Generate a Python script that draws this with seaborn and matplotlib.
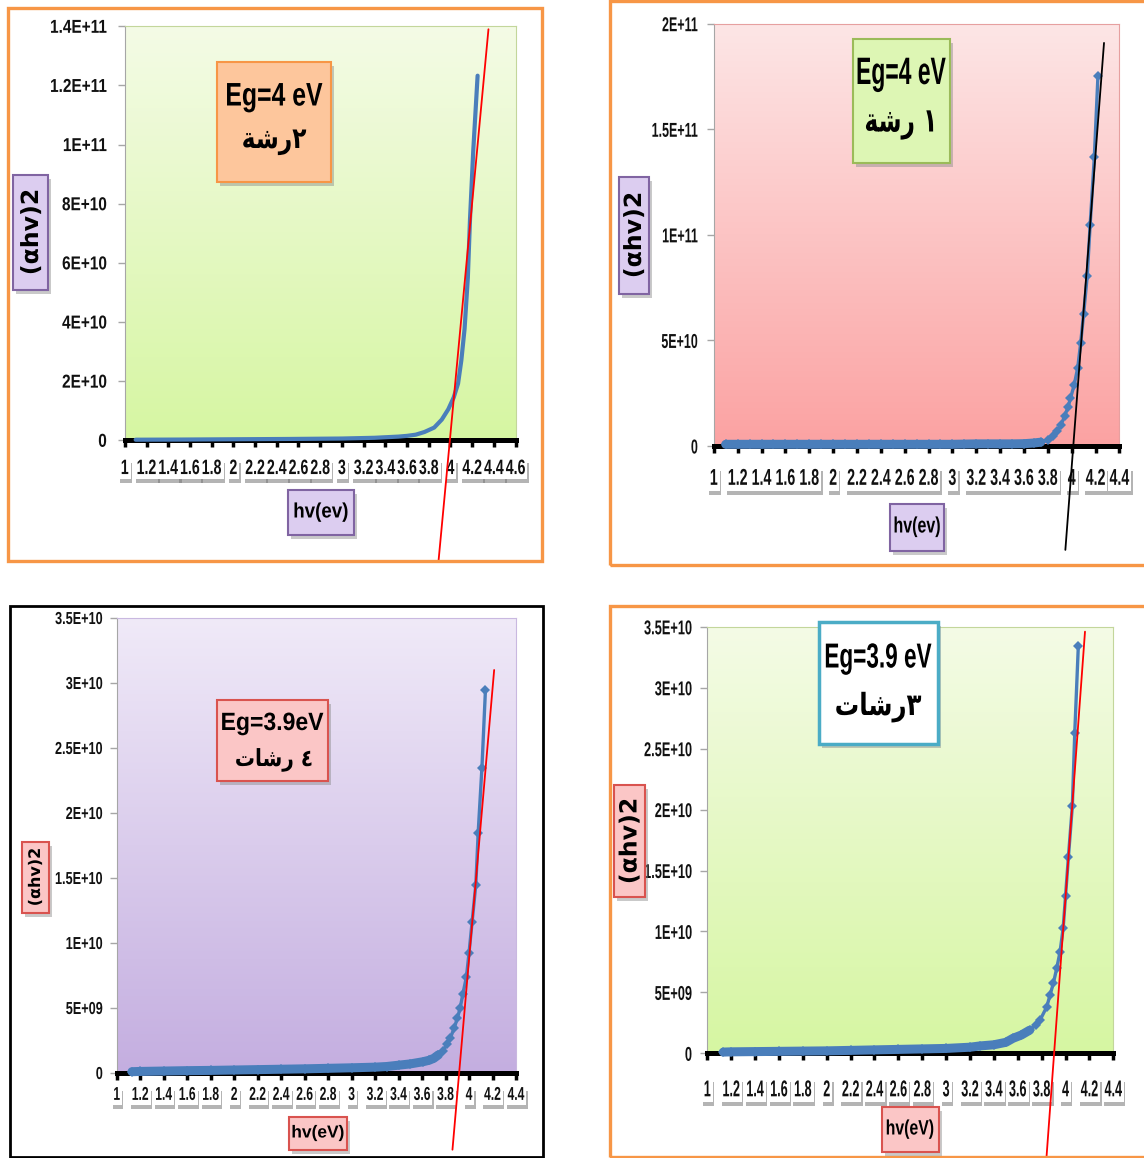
import numpy as np
import matplotlib
matplotlib.use("Agg")
import matplotlib.pyplot as plt
import matplotlib.patheffects as pe
from matplotlib.patches import Rectangle
from matplotlib.colors import LinearSegmentedColormap
from matplotlib.transforms import Affine2D
import seaborn as sns

# ---------------- data (absorption edge, values of (alpha h nu)^2 in units of 1E9) ----------------
E9 = 1e9

# 2 coats (top left)
hv_2c = [1.10, 1.50, 2.00, 2.50, 3.00, 3.30, 3.52, 3.60, 3.68, 3.76, 3.85, 3.92, 3.98, 4.03, 4.07,
         4.10, 4.13, 4.16, 4.18, 4.21, 4.25]
ahv_2c = [0.2, 0.25, 0.35, 0.45, 0.6, 0.85, 1.25, 1.5, 1.9, 2.8, 4.3, 7.0, 10.5, 14.5, 19.2,
          27.0, 37.7, 55.0, 74.8, 98.0, 123.3]
fit_hv_2c = [3.89, 4.35]
fit_ahv_2c = [-40.8, 139.0]

# 1 coat (top right)
hv_1c = [1.10, 1.20, 1.30, 1.40, 1.50, 1.60, 1.70, 1.80, 1.90, 2.00, 2.10, 2.20, 2.30, 2.40, 2.50,
         2.60, 2.70, 2.80, 2.90, 3.00, 3.10, 3.20, 3.30, 3.40, 3.50, 3.60, 3.68, 3.74, 3.80, 3.84,
         3.88, 3.91, 3.94, 3.97, 3.99, 4.02, 4.05, 4.075, 4.10, 4.13, 4.155, 4.19, 4.22]
ahv_1c = [0.8, 0.8, 0.8, 0.8, 0.8, 0.8, 0.8, 0.8, 0.8, 0.8, 0.8, 0.8, 0.8, 0.8, 0.8,
          0.8, 0.8, 0.8, 0.8, 0.8, 0.9, 1.0, 1.0, 1.0, 1.0, 1.1, 1.4, 1.8, 2.7, 4.5,
          7.1, 10.0, 14.0, 18.5, 22.6, 28.7, 36.8, 48.6, 62.5, 80.3, 104.9, 137.0, 175.0]
fit_hv_1c = [3.947, 4.271]
fit_ahv_1c = [-49.2, 190.9]

# 4 coats (bottom left)
hv_4c = [1.13, 1.20, 1.40, 1.60, 1.80, 2.00, 2.20, 2.40, 2.60, 2.80, 3.00, 3.20, 3.30, 3.40, 3.50,
         3.61, 3.66, 3.70, 3.74, 3.78, 3.81, 3.84, 3.873, 3.90, 3.924, 3.947, 3.978, 4.00, 4.026,
         4.058, 4.078, 4.11, 4.14]
ahv_4c = [0.10, 0.12, 0.15, 0.18, 0.20, 0.23, 0.26, 0.29, 0.32, 0.36, 0.40, 0.45, 0.50, 0.60, 0.70,
          0.87, 0.98, 1.13, 1.40, 1.72, 2.20, 2.67, 3.44, 4.20, 4.98, 6.05, 7.40, 9.25, 11.6,
          14.5, 18.5, 23.5, 29.5]
fit_hv_4c = [3.859, 4.214]
fit_ahv_4c = [-5.9, 31.0]

# 3 coats (bottom right)
hv_3c = [1.134, 1.20, 1.40, 1.60, 1.80, 2.00, 2.20, 2.40, 2.60, 2.80, 3.00, 3.20, 3.28, 3.40, 3.50,
         3.56, 3.63, 3.70, 3.75, 3.787, 3.843, 3.87, 3.898, 3.926, 3.954, 3.98, 4.00, 4.024,
         4.057, 4.077, 4.107]
ahv_3c = [0.10, 0.12, 0.14, 0.16, 0.18, 0.20, 0.24, 0.28, 0.32, 0.36, 0.40, 0.50, 0.60, 0.70, 0.90,
          1.23, 1.50, 1.90, 2.30, 2.73, 3.82, 4.78, 5.74, 6.97, 8.33, 10.25, 12.9, 16.1,
          20.3, 26.25, 33.4]
fit_hv_3c = [3.84, 4.163]
fit_ahv_3c = [-8.6, 34.6]

# axis ticks
xt_46 = [1.0, 1.2, 1.4, 1.6, 1.8, 2.0, 2.2, 2.4, 2.6, 2.8, 3.0, 3.2, 3.4, 3.6, 3.8, 4.0, 4.2, 4.4, 4.6]
xl_46 = ["1", "1.2", "1.4", "1.6", "1.8", "2", "2.2", "2.4", "2.6", "2.8", "3", "3.2", "3.4",
         "3.6", "3.8", "4", "4.2", "4.4", "4.6"]
xt_44 = xt_46[:-1]
xl_44 = xl_46[:-1]
yt_2c = [0, 2e10, 4e10, 6e10, 8e10, 1e11, 1.2e11, 1.4e11]
yl_2c = ["0", "2E+10", "4E+10", "6E+10", "8E+10", "1E+11", "1.2E+11", "1.4E+11"]
yt_1c = [0, 5e10, 1e11, 1.5e11, 2e11]
yl_1c = ["0", "5E+10", "1E+11", "1.5E+11", "2E+11"]
yt_35 = [0, 5e9, 1e10, 1.5e10, 2e10, 2.5e10, 3e10, 3.5e10]
yl_35 = ["0", "5E+09", "1E+10", "1.5E+10", "2E+10", "2.5E+10", "3E+10", "3.5E+10"]

# ---------------- figure ----------------
W, H = 1144, 1158
sns.set_theme(style="white")
FONT = ["Liberation Sans", "DejaVu Sans"]
WIDE = ["DejaVu Sans"]
plt.rcParams["font.family"] = FONT

fig = plt.figure(figsize=(W / 100, H / 100), dpi=100)
fig.patch.set_facecolor("white")

BLUE = "#4a7ebb"
ORANGE = "#f79646"


class Squeeze(pe.AbstractPathEffect):
    """Draw glyphs compressed around a fixed display point (condensed lettering)."""

    def __init__(self, cx, cy, sx, sy):
        super().__init__()
        self.cx, self.cy, self.sx, self.sy = cx, cy, sx, sy

    def draw_path(self, renderer, gc, tpath, affine, rgbFace=None):
        t = affine + Affine2D().translate(-self.cx, -self.cy).scale(self.sx, self.sy).translate(self.cx, self.cy)
        renderer.draw_path(gc, tpath, t, rgbFace)


def fx(x):
    return x / W


def fy(y):
    return 1 - y / H


def add_box(x0, y0, x1, y1, fc, ec, lw, shadow=True, z=5):
    r = Rectangle((fx(x0), fy(y1)), fx(x1) - fx(x0), fy(y0) - fy(y1),
                  transform=fig.transFigure, facecolor=fc, edgecolor=ec, lw=lw, zorder=z)
    if shadow:
        r.set_path_effects([pe.SimplePatchShadow(offset=(2, -3), shadow_rgbFace="#888888", alpha=0.45),
                            pe.Normal()])
    fig.add_artist(r)
    return r


def ftext(x, y, s, size, sx=1.0, weight="bold", rot=0, z=6, family=FONT):
    t = fig.text(fx(x), fy(y), s, ha="center", va="center", fontsize=size, fontweight=weight,
                 rotation=rot, zorder=z, family=family, color="black")
    cx, cy = x, H - y
    if rot == 90:
        t.set_path_effects([Squeeze(cx, cy, 1.0, sx)])
    else:
        t.set_path_effects([Squeeze(cx, cy, sx, 1.0)])
    return t


def make_axes(px0, py_top, px1, py_zero):
    return fig.add_axes([fx(px0), fy(py_zero), fx(px1) - fx(px0), fy(py_top) - fy(py_zero)])


def style(ax, xmax, xt, xl, ymax, yt, yl, top, bot, edge, xfs, yfs, xpad, ypad):
    cmap = LinearSegmentedColormap.from_list("bg", [top, bot])
    ax.imshow(np.linspace(0, 1, 256).reshape(-1, 1), cmap=cmap, aspect="auto",
              extent=(0, 1, 0, 1), transform=ax.transAxes, origin="upper", zorder=0)
    ax.set_xlim(1, xmax)
    ax.set_ylim(0, ymax)
    ax.set_xticks(xt)
    ax.set_xticklabels(xl, fontweight="bold")
    ax.set_yticks(yt)
    ax.set_yticklabels(yl, fontweight="bold")
    ax.set_xlabel("")
    ax.set_ylabel("")
    ax.tick_params(axis="x", bottom=True, direction="out", length=5, width=2.5, color="black",
                   pad=xpad, labelsize=xfs, labelcolor="#111111")
    ax.tick_params(axis="y", left=True, direction="out", length=5, width=1, color="#a6a6a6",
                   pad=ypad, labelsize=yfs, labelcolor="#111111")
    for sp in ("top", "right"):
        ax.spines[sp].set_color(edge)
        ax.spines[sp].set_linewidth(0.8)
    ax.spines["left"].set_color("#a6a6a6")
    ax.spines["left"].set_linewidth(0.8)
    ax.spines["bottom"].set_color("black")
    ax.spines["bottom"].set_linewidth(3.6)


def curve(ax, x, y, markers=True):
    yy = [v * E9 for v in y]
    if markers:
        n = sum(1 for v in x if v < 3.75)
        sns.lineplot(x=x[:n], y=yy[:n], ax=ax, color=BLUE, lw=6.5, sort=False, estimator=None)
        ax.lines[-1].set_solid_capstyle("round")
        sns.lineplot(x=x, y=yy, ax=ax, color=BLUE, lw=2.4, marker="D", markersize=5.5,
                     markeredgewidth=0, sort=False, estimator=None)
    else:
        sns.lineplot(x=x, y=yy, ax=ax, color=BLUE, lw=3, sort=False, estimator=None)
    for ln in ax.lines:
        ln.set_zorder(3)
        ln.set_clip_on(False)


def fit(ax, x, y, col):
    sns.lineplot(x=x, y=[v * E9 for v in y], ax=ax, color=col, lw=1.3, sort=False, estimator=None)
    ln = ax.lines[-1]
    ln.set_clip_on(False)
    ln.set_zorder(10)


# ---------------- panel frames ----------------
add_box(8, 8, 542, 561, "none", ORANGE, 2.4, shadow=False, z=0.5)
add_box(610, 1, 1160, 565, "none", ORANGE, 2.4, shadow=False, z=0.5)
add_box(10, 606, 543, 1157, "none", "black", 2.0, shadow=False, z=0.5)
add_box(610, 606, 1160, 1157, "none", ORANGE, 2.4, shadow=False, z=0.5)

# ---------------- top left: 2 coats ----------------
ax1 = make_axes(124.8, 26.3, 515.6, 440.3)
curve(ax1, hv_2c, ahv_2c, markers=False)
fit(ax1, fit_hv_2c, fit_ahv_2c, "#ff0000")
style(ax1, 4.6, xt_46, xl_46, 1.4e11, yt_2c, yl_2c, "#f4fbe6", "#d6f6a2", "#c3d69b",
      15, 13.5, 8.5, 8)
add_box(217, 62, 331, 182, "#fdc69c", ORANGE, 1.5)
ftext(274, 97, "Eg=4 eV", 23.5, sx=0.76)
ftext(274, 141, "\ufe94\ufeb7\ufead\u0662", 21, sx=0.8, family=WIDE)
add_box(13, 175, 48, 290, "#dccdf0", "#8064a2", 1.5)
ftext(31, 232, "(\u03b1hv)2", 17, rot=90, family=WIDE)
add_box(288, 490, 354, 535, "#dccdf0", "#8064a2", 1.5)
ftext(321, 512, "hv(ev)", 15, sx=0.9)

# ---------------- top right: 1 coat ----------------
ax2 = make_axes(713.8, 23.7, 1119.4, 446)
curve(ax2, hv_1c, ahv_1c)
fit(ax2, fit_hv_1c, fit_ahv_1c, "black")
style(ax2, 4.4, xt_44, xl_44, 2e11, yt_1c, yl_1c, "#fde6e6", "#fba2a2", "#e6a0a0",
      16.5, 14.5, 10, 6.5)
add_box(853, 39, 950, 163, "#ddf6b4", "#9bbb59", 1.5)
ftext(901, 74, "Eg=4 eV", 27.5, sx=0.6)
ftext(901, 123, "\ufe94\ufeb7\ufead \u0661", 24, sx=0.7, family=WIDE)
add_box(619, 177, 649, 294, "#dccdf0", "#8064a2", 1.5)
ftext(634, 235, "(\u03b1hv)2", 17, rot=90, family=WIDE)
add_box(890, 504, 944, 551, "#dccdf0", "#8064a2", 1.5)
ftext(917, 527, "hv(ev)", 16, sx=0.72)

# ---------------- bottom left: 4 coats ----------------
ax3 = make_axes(116.7, 618, 516, 1073)
curve(ax3, hv_4c, ahv_4c)
fit(ax3, fit_hv_4c, fit_ahv_4c, "#ff0000")
style(ax3, 4.4, xt_44, xl_44, 3.5e10, yt_35, yl_35, "#f0eaf8", "#c4aee0", "#c9b8e0",
      13.4, 12.5, 5, 5)
add_box(217, 700, 328, 781, "#fbc6c6", "#d9534f", 1.5)
ftext(272, 723, "Eg=3.9eV", 18, sx=0.92)
ftext(274, 760, "\ufe95\ufe8e\ufeb7\ufead \u0664", 17, sx=0.85, family=WIDE)
add_box(22, 842, 49, 913, "#fbc6c6", "#d9534f", 1.5)
ftext(35.5, 877, "(\u03b1hv)2", 11.5, rot=90, family=WIDE)
add_box(289, 1117, 347, 1150, "#fbc6c6", "#d9534f", 1.5)
ftext(318, 1133, "hv(eV)", 12.5)

# ---------------- bottom right: 3 coats ----------------
ax4 = make_axes(707.3, 626.8, 1113.3, 1053.3)
curve(ax4, hv_3c, ahv_3c)
fit(ax4, fit_hv_3c, fit_ahv_3c, "#ff0000")
style(ax4, 4.4, xt_44, xl_44, 3.5e10, yt_35, yl_35, "#f4fbe6", "#d6f6a2", "#c3d69b",
      16.5, 14.4, 13, 6)
add_box(819, 622, 938, 744, "white", "#4bacc6", 2.5)
ftext(878, 658, "Eg=3.9 eV", 25, sx=0.65)
ftext(878, 707, "\ufe95\ufe8e\ufeb7\ufead\u0663", 22, sx=0.8, family=WIDE)
add_box(614, 785, 645, 897, "#fbc6c6", "#d9534f", 1.5)
ftext(629.5, 841, "(\u03b1hv)2", 17, rot=90, family=WIDE)
add_box(882, 1107, 939, 1152, "#fbc6c6", "#d9534f", 1.5)
ftext(910, 1129, "hv(eV)", 15, sx=0.76)

# ---------------- condensed tick labels with shadowed label plates ----------------
fig.canvas.draw()
squeeze = {ax1: (0.68, 0.82), ax2: (0.62, 0.62), ax3: (0.65, 0.73), ax4: (0.55, 0.64)}
for ax, (sxx, sxy) in squeeze.items():
    for tick in ax.xaxis.get_major_ticks():
        lbl = tick.label1
        bb = lbl.get_window_extent()
        cx = 0.5 * (bb.x0 + bb.x1)
        lbl.set_path_effects([Squeeze(cx, 0.0, sxx, 1.0)])
        w = bb.width * sxx + 4
        plate = Rectangle(((cx - w / 2) / W, (bb.y0 - 1) / H), w / W, (bb.height + 1) / H,
                          transform=fig.transFigure, facecolor="white", edgecolor="none", zorder=-1)
        plate.set_path_effects([pe.SimplePatchShadow(offset=(1, -3), shadow_rgbFace="#777777", alpha=0.55),
                                pe.Normal()])
        fig.add_artist(plate)
    for tick in ax.yaxis.get_major_ticks():
        lbl = tick.label1
        bb = lbl.get_window_extent()
        lbl.set_path_effects([Squeeze(bb.x1, 0.0, sxy, 1.0)])

fig.savefig("out.png", dpi=100, facecolor="white")
